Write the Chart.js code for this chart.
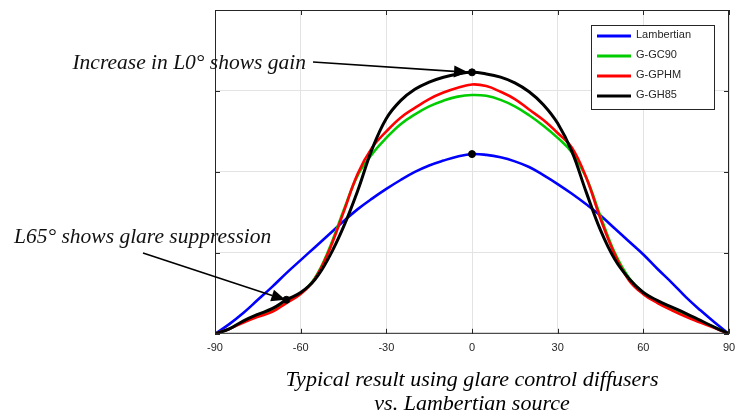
<!DOCTYPE html>
<html>
<head>
<meta charset="utf-8">
<script src="https://cdn.jsdelivr.net/npm/chart.js@4.4.1/dist/chart.umd.min.js"></script>
<style>
  html, body { margin: 0; padding: 0; background: #fff; }
  #wrap { width: 737px; height: 416px; }
</style>
</head>
<body>
<div id="wrap"><canvas id="Chart1"></canvas></div>
<script>
// Sudut pandang (derajat)
const angles = [-90, -85, -80, -75, -70, -65, -60, -55, -50, -45, -40, -35, -30, -25, -20, -15, -10, -5, 0,
  5, 10, 15, 20, 25, 30, 35, 40, 45, 50, 55, 60, 65, 70, 75, 80, 85, 90];

// Nilai tiap seri
const lambertian = [0, 0.12, 0.26, 0.42, 0.58, 0.75, 0.91, 1.07, 1.23, 1.39, 1.54, 1.67, 1.79, 1.90, 2.00, 2.08, 2.14, 2.19, 2.22,
  2.21, 2.18, 2.13, 2.06, 1.96, 1.85, 1.73, 1.60, 1.46, 1.30, 1.14, 0.98, 0.80, 0.63, 0.45, 0.29, 0.14, 0];
const gc90 = [0, 0.06, 0.15, 0.22, 0.29, 0.40, 0.50, 0.69, 1.05, 1.52, 1.96, 2.22, 2.42, 2.59, 2.71, 2.81, 2.88, 2.93, 2.95,
  2.94, 2.89, 2.81, 2.70, 2.57, 2.42, 2.24, 1.93, 1.45, 1.00, 0.69, 0.51, 0.40, 0.31, 0.23, 0.15, 0.08, 0];
const gphm = [0, 0.06, 0.14, 0.21, 0.27, 0.38, 0.49, 0.68, 1.03, 1.50, 1.98, 2.30, 2.50, 2.67, 2.79, 2.90, 2.98, 3.04, 3.08,
  3.06, 2.99, 2.90, 2.77, 2.64, 2.48, 2.30, 1.93, 1.42, 0.98, 0.66, 0.49, 0.38, 0.29, 0.21, 0.14, 0.07, 0];
const gh85 = [0, 0.06, 0.16, 0.24, 0.31, 0.42, 0.51, 0.67, 0.95, 1.32, 1.77, 2.28, 2.66, 2.88, 3.02, 3.11, 3.17, 3.21, 3.23,
  3.21, 3.17, 3.10, 2.99, 2.83, 2.60, 2.25, 1.75, 1.28, 0.92, 0.68, 0.51, 0.41, 0.33, 0.25, 0.165, 0.08, 0];

// Titik penanda (L0 dan L65)
const markerX = [0, 0, -65];
const markerY = [3.23, 2.22, 0.42];

const xTicks = [-90, -60, -30, 0, 30, 60, 90];
const yTicks = [0, 1, 2, 3, 4];

const caption = ['Typical result using glare control diffusers', 'vs. Lambertian source'];
const note1 = 'Increase in L0\u00b0 shows gain';
const note2 = 'L65\u00b0 shows glare suppression';

function toPoints(ys) {
  return angles.map((a, i) => ({ x: a, y: ys[i] }));
}

function lineSet(label, ys, color, order, width) {
  return {
    label: label,
    data: toPoints(ys),
    borderColor: color,
    backgroundColor: color,
    borderWidth: width,
    pointRadius: 0,
    showLine: true,
    tension: 0.4,
    order: order
  };
}

// Bingkai, tick ke dalam, legenda, anotasi dan keterangan
const decorPlugin = {
  id: 'decor',
  afterDraw(chart) {
    const ctx = chart.ctx;
    const a = chart.chartArea;
    const xs = chart.scales.x, ys = chart.scales.y;
    ctx.save();
    ctx.strokeStyle = '#262626';
    ctx.lineWidth = 1;
    ctx.strokeRect(a.left + 0.5, a.top + 0.5, a.right - a.left - 1, a.bottom - a.top - 1);
    ctx.beginPath();
    xTicks.forEach(v => {
      const px = Math.round(xs.getPixelForValue(v)) + 0.5;
      ctx.moveTo(px, a.bottom); ctx.lineTo(px, a.bottom - 5);
      ctx.moveTo(px, a.top); ctx.lineTo(px, a.top + 5);
    });
    yTicks.forEach(v => {
      const py = Math.round(ys.getPixelForValue(v)) + 0.5;
      ctx.moveTo(a.left, py); ctx.lineTo(a.left + 5, py);
      ctx.moveTo(a.right, py); ctx.lineTo(a.right - 5, py);
    });
    ctx.stroke();

    // legenda
    const lx = a.right - 138, ly = a.top + 15, lw = 123, lh = 84;
    ctx.fillStyle = '#fff';
    ctx.fillRect(lx, ly, lw, lh);
    ctx.strokeStyle = '#262626';
    ctx.strokeRect(lx + 0.5, ly + 0.5, lw, lh);
    ctx.font = '11px "Liberation Sans", Arial, sans-serif';
    ctx.textBaseline = 'middle';
    ctx.textAlign = 'left';
    const legendSets = chart.data.datasets.filter(d => d.label);
    legendSets.forEach((d, i) => {
      const yy = ly + 10 + i * 20;
      ctx.strokeStyle = d.borderColor;
      ctx.lineWidth = 3;
      ctx.beginPath();
      ctx.moveTo(lx + 6, yy + 1); ctx.lineTo(lx + 40, yy + 1);
      ctx.stroke();
      ctx.fillStyle = '#262626';
      ctx.fillText(d.label, lx + 45, yy);
    });

    // anotasi panah
    ctx.font = 'italic 21.5px "Liberation Serif", "DejaVu Serif", serif';
    ctx.fillStyle = '#111';
    ctx.textBaseline = 'alphabetic';
    ctx.textAlign = 'right';
    ctx.fillText(note1, 306, 69);
    ctx.textAlign = 'left';
    ctx.fillText(note2, 14, 243);

    const tip1 = { x: xs.getPixelForValue(markerX[0]) - 4, y: ys.getPixelForValue(markerY[0]) };
    const tip2 = { x: xs.getPixelForValue(markerX[2]) - 1, y: ys.getPixelForValue(markerY[2]) };
    drawArrow(ctx, 313, 62, tip1.x, tip1.y);
    drawArrow(ctx, 143, 253, tip2.x, tip2.y);

    // keterangan bawah
    const cx = (a.left + a.right) / 2;
    ctx.font = 'italic 22px "Liberation Serif", "DejaVu Serif", serif';
    ctx.textAlign = 'center';
    ctx.fillText(caption[0], cx, 386);
    ctx.fillText(caption[1], cx, 410);
    ctx.restore();
  }
};

function drawArrow(ctx, x0, y0, x1, y1) {
  const ang = Math.atan2(y1 - y0, x1 - x0);
  const len = 14, half = 6;
  ctx.strokeStyle = '#000';
  ctx.fillStyle = '#000';
  ctx.lineWidth = 1.6;
  ctx.beginPath();
  ctx.moveTo(x0, y0);
  ctx.lineTo(x1 - len * Math.cos(ang), y1 - len * Math.sin(ang));
  ctx.stroke();
  ctx.beginPath();
  ctx.moveTo(x1, y1);
  ctx.lineTo(x1 - len * Math.cos(ang) + half * Math.sin(ang), y1 - len * Math.sin(ang) - half * Math.cos(ang));
  ctx.lineTo(x1 - len * Math.cos(ang) - half * Math.sin(ang), y1 - len * Math.sin(ang) + half * Math.cos(ang));
  ctx.closePath();
  ctx.fill();
}

function renderChart() {
  const ctx = document.getElementById('Chart1').getContext('2d');
  new Chart(ctx, {
    type: 'scatter',
    data: {
      datasets: [
        lineSet('Lambertian', lambertian, '#0000ff', 3, 2.6),
        lineSet('G-GC90', gc90, '#00cc00', 2, 2.6),
        lineSet('G-GPHM', gphm, '#ff0000', 1, 2.6),
        lineSet('G-GH85', gh85, '#000000', 0, 3),
        {
          data: markerX.map((x, i) => ({ x: x, y: markerY[i] })),
          backgroundColor: '#000',
          borderColor: '#000',
          pointRadius: 3.5,
          showLine: false,
          order: -1
        }
      ]
    },
    options: {
      responsive: true,
      maintainAspectRatio: false,
      animation: false,
      layout: { padding: { left: 215, right: 8, top: 10, bottom: 53 } },
      plugins: {
        legend: { display: false },
        tooltip: { enabled: false }
      },
      scales: {
        x: {
          type: 'linear',
          min: -90,
          max: 90,
          afterBuildTicks: axis => { axis.ticks = xTicks.map(v => ({ value: v })); },
          afterFit: axis => { axis.paddingLeft = 0; axis.paddingRight = 0; },
          grid: { color: '#e3e3e3', drawTicks: false },
          border: { display: false },
          ticks: {
            padding: 8,
            color: '#262626',
            font: { family: '"Liberation Sans", Arial, sans-serif', size: 11 }
          }
        },
        y: {
          type: 'linear',
          min: 0,
          max: 4,
          afterBuildTicks: axis => { axis.ticks = yTicks.map(v => ({ value: v })); },
          grid: { color: '#e3e3e3', drawTicks: false },
          border: { display: false },
          ticks: { display: false }
        }
      }
    },
    plugins: [decorPlugin]
  });
}

document.addEventListener('DOMContentLoaded', renderChart);
</script>
</body>
</html>
